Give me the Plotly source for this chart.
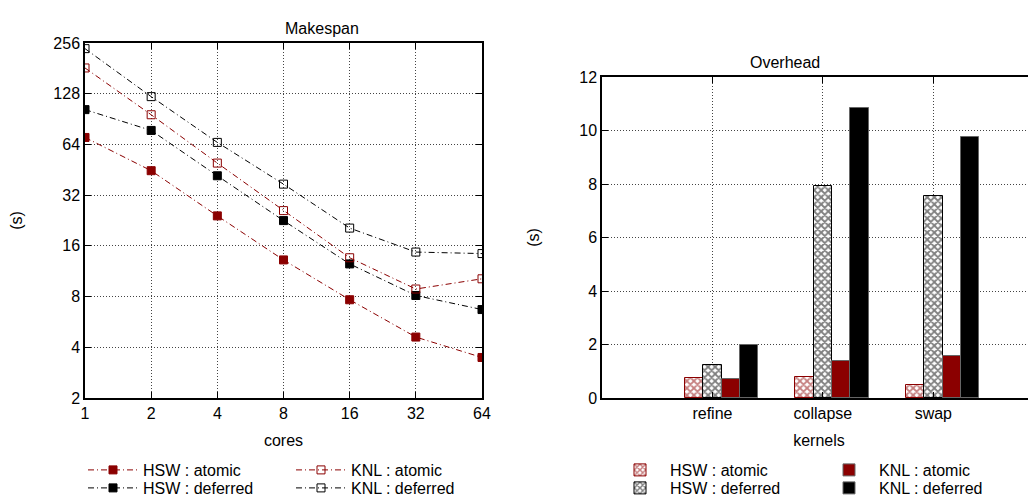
import plotly.graph_objects as go

# page has an 8px body margin: figure sized to fit the 1036x496 window
OFF = 8
W, H = 1036 - OFF, 496 - OFF

# ---------------- data ----------------
cores = [1, 2, 4, 8, 16, 32, 64]
core_labels = ["1", "2", "4", "8", "16", "32", "64"]
hsw_atomic = [70.4, 44.7, 24.1, 13.2, 7.66, 4.6, 3.48]
hsw_deferred = [103, 77.5, 41.7, 22.6, 12.5, 8.12, 6.7]
knl_atomic = [182, 96, 49.6, 25.9, 13.6, 8.87, 10.2]
knl_deferred = [237, 123, 65.8, 37.2, 20.4, 14.7, 14.4]
log_ticks = [2, 4, 8, 16, 32, 64, 128, 256]

kernels = ["refine", "collapse", "swap"]
ov_hsw_atomic = [0.75, 0.77, 0.50]
ov_hsw_deferred = [1.22, 7.93, 7.56]
ov_knl_atomic = [0.72, 1.40, 1.58]
ov_knl_deferred = [2.0, 10.84, 9.74]
lin_ticks = [0, 2, 4, 6, 8, 10, 12]

# ---------------- style ----------------
RED = "#8b0000"
FONT = "Liberation Sans, Arial, Helvetica, sans-serif"
FS = 16
DASH = "6px,3px,1px,3px"
GRID = "#444444"

def px_x(p):
    return (p - OFF) / W

def px_y(p):
    return 1 - (p - OFF) / H

fig = go.Figure()

line_series = [
    ("HSW : atomic", hsw_atomic, RED, "square", "legend"),
    ("HSW : deferred", hsw_deferred, "black", "square", "legend2"),
    ("KNL : atomic", knl_atomic, RED, "square-open", "legend3"),
    ("KNL : deferred", knl_deferred, "black", "square-open", "legend4"),
]
for name, vals, col, sym, lg in line_series:
    fig.add_trace(go.Scatter(
        x=cores, y=vals, name=name, mode="lines+markers",
        line=dict(color=col, width=1, dash=DASH),
        marker=dict(symbol=sym, size=8, color=col, line=dict(color=col, width=1)),
        xaxis="x", yaxis="y", legend=lg,
    ))

kpos = [i + 1 for i in range(len(kernels))]
bw = 1 / 6
bar_series = [
    ("HSW : atomic", ov_hsw_atomic, RED, "x", "legend5"),
    ("HSW : deferred", ov_hsw_deferred, "black", "x", "legend6"),
    ("KNL : atomic", ov_knl_atomic, RED, "", "legend7"),
    ("KNL : deferred", ov_knl_deferred, "black", "", "legend8"),
]
for i, (name, vals, col, pat, lg) in enumerate(bar_series):
    if pat:
        marker = dict(color="white",
                      pattern=dict(shape=pat, fgcolor=col, bgcolor="white", size=5, solidity=0.6),
                      line=dict(color=col, width=1))
    else:
        marker = dict(color=col, line=dict(color="#666666", width=1))
    fig.add_trace(go.Bar(
        x=kpos, y=vals, name=name, width=bw, offset=-0.25 + i * bw,
        marker=marker, xaxis="x2", yaxis="y2", legend=lg,
    ))

axis_common = dict(
    showline=True, linecolor="black", linewidth=1.5, mirror="ticks",
    ticks="inside", ticklen=6, tickcolor="black", tickwidth=1,
    showgrid=True, gridcolor=GRID, griddash="1px,2px", gridwidth=1,
    zeroline=False, tickfont=dict(family=FONT, size=FS, color="black"),
    automargin=False,
)

fig.update_layout(
    width=W, height=H, margin=dict(l=0, r=0, t=0, b=0, autoexpand=False),
    paper_bgcolor="white", plot_bgcolor="white",
    font=dict(family=FONT, size=FS, color="black"),
    showlegend=True,
    bargap=0,
    xaxis=dict(axis_common, type="log", range=[0, 1.80618], tickvals=cores, ticktext=core_labels,
               domain=[px_x(85), px_x(482)], anchor="y",
               title=dict(text="cores", standoff=14, font=dict(family=FONT, size=FS))),
    yaxis=dict(axis_common, type="log", range=[0.30103, 2.40824], tickvals=log_ticks,
               ticktext=[str(t) for t in log_ticks],
               domain=[px_y(398), px_y(43)], anchor="x",
               title=dict(text="(s)", standoff=40, font=dict(family=FONT, size=FS))),
    xaxis2=dict(axis_common, range=[0, 3.93], tickvals=kpos, ticktext=kernels,
                domain=[px_x(602), 1.0], anchor="y2",
                title=dict(text="kernels", standoff=14, font=dict(family=FONT, size=FS))),
    yaxis2=dict(axis_common, range=[0, 12], tickvals=lin_ticks, mirror=False,
                domain=[px_y(398), px_y(77)], anchor="x2",
                title=dict(text="(s)", standoff=36, font=dict(family=FONT, size=FS))),
    annotations=[
        dict(text="Makespan", x=px_x(283), y=px_y(18), xref="paper", yref="paper",
             showarrow=False, font=dict(family=FONT, size=FS)),
        dict(text="Overhead", x=px_x(822), y=px_y(52), xref="paper", yref="paper",
             showarrow=False, font=dict(family=FONT, size=FS)),
    ],
)

leg_common = dict(bgcolor="rgba(0,0,0,0)", font=dict(family=FONT, size=FS, color="black"),
                  itemwidth=50, xanchor="left", yanchor="middle", orientation="v",
                  itemclick=False, itemdoubleclick=False)
legpos = {
    "legend": (83, 470), "legend2": (83, 488),
    "legend3": (291, 470), "legend4": (291, 488),
    "legend5": (610, 470), "legend6": (610, 488),
    "legend7": (819, 470), "legend8": (819, 488),
}
for k, (lx, ly) in legpos.items():
    fig.update_layout({k: dict(leg_common, x=px_x(lx), y=px_y(ly))})

fig.write_html("out.html")
